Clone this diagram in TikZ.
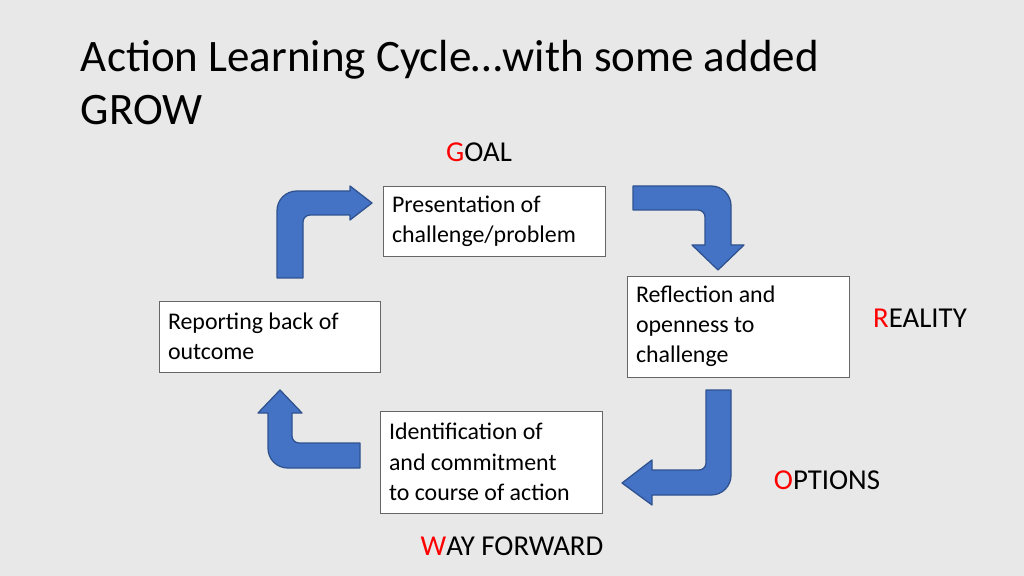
\documentclass[tikz,border=0pt]{standalone}
\usepackage{fontspec}
\setmainfont{Carlito}
\usetikzlibrary{positioning}
\definecolor{grow_bg}{RGB}{232, 232, 232}
\definecolor{grow_blue}{RGB}{68, 114, 196}
\definecolor{grow_edge}{RGB}{47, 82, 143}
\definecolor{grow_red}{RGB}{255, 0, 0}
\begin{document}
\begin{tikzpicture}[x=0.025cm, y=-0.025cm,
        sbox/.style={rectangle, draw=black!60, fill=white, line width=0.6pt,
                     font=\fontsize{17}{21.5}\selectfont, align=flush left,
                     inner sep=0pt},
        tag/.style={font=\fontsize{20.5}{24}\selectfont},
        bent/.style={fill=grow_blue, draw=grow_edge, line width=0.9pt, line join=round},
      ]
        \fill[grow_bg] (0,0) rectangle (1024,576);
        \useasboundingbox (0,0) rectangle (1024,576);

        % title
        \node[anchor=west, font=\fontsize{32}{36}\selectfont] (t1) at (76,60)
          {Action Learning Cycle…with some added};
        \node[anchor=west, font=\fontsize{32}{36}\selectfont] (t2) at (76,110) {GROW};

        % stages
        \node[sbox, minimum width=222*0.025cm, minimum height=70*0.025cm, text width=204*0.025cm] (pres) at (494,221)
          {Presentation of\\challenge/problem};
        \node[sbox, minimum width=222*0.025cm, minimum height=101*0.025cm, text width=204*0.025cm] (refl) at (738,326.5)
          {Reflection and\\openness to\\challenge};
        \node[sbox, minimum width=222*0.025cm, minimum height=102*0.025cm, text width=204*0.025cm] (iden) at (491,462)
          {Identification of\\and commitment\\to course of action};
        \node[sbox, minimum width=221*0.025cm, minimum height=71*0.025cm, text width=203*0.025cm] (repo) at (269.5,336.5)
          {Reporting back of\\outcome};

        % GROW letters
        \node[tag] (goal) at (479,152) {\textcolor{grow_red}{G}OAL};
        \node[tag] (real) at (920,318) {\textcolor{grow_red}{R}EALITY};
        \node[tag] (opts) at (827,480) {\textcolor{grow_red}{O}PTIONS};
        \node[tag] (wayf) at (512,546) {\textcolor{grow_red}{W}AY FORWARD};

        % bent arrows
        \draw[bent] (277,278) [rounded corners=14pt] -- (277,191) [sharp corners] -- (350,191)
          -- (350,186) -- (372,203) -- (350,220) -- (350,215)
          [rounded corners=5pt] -- (303,215) [sharp corners] -- (303,278) -- cycle;
        \draw[bent] (633,186) [rounded corners=14pt] -- (731,186) [sharp corners] -- (731,245)
          -- (744,245) -- (718,270) -- (692,245) -- (705,245)
          [rounded corners=5pt] -- (705,210) [sharp corners] -- (633,210) -- cycle;
        \draw[bent] (731,390) [rounded corners=14pt] -- (731,495) [sharp corners] -- (652,495)
          -- (652,505) -- (622,483) -- (652,460) -- (652,470)
          [rounded corners=5pt] -- (706,470) [sharp corners] -- (706,390) -- cycle;
        \draw[bent] (360,443) [rounded corners=5pt] -- (292,443) [sharp corners] -- (292,413)
          -- (302,413) -- (280,390) -- (258,413) -- (268,413)
          [rounded corners=14pt] -- (268,468) [sharp corners] -- (360,468) -- cycle;
      \end{tikzpicture}
\end{document}
